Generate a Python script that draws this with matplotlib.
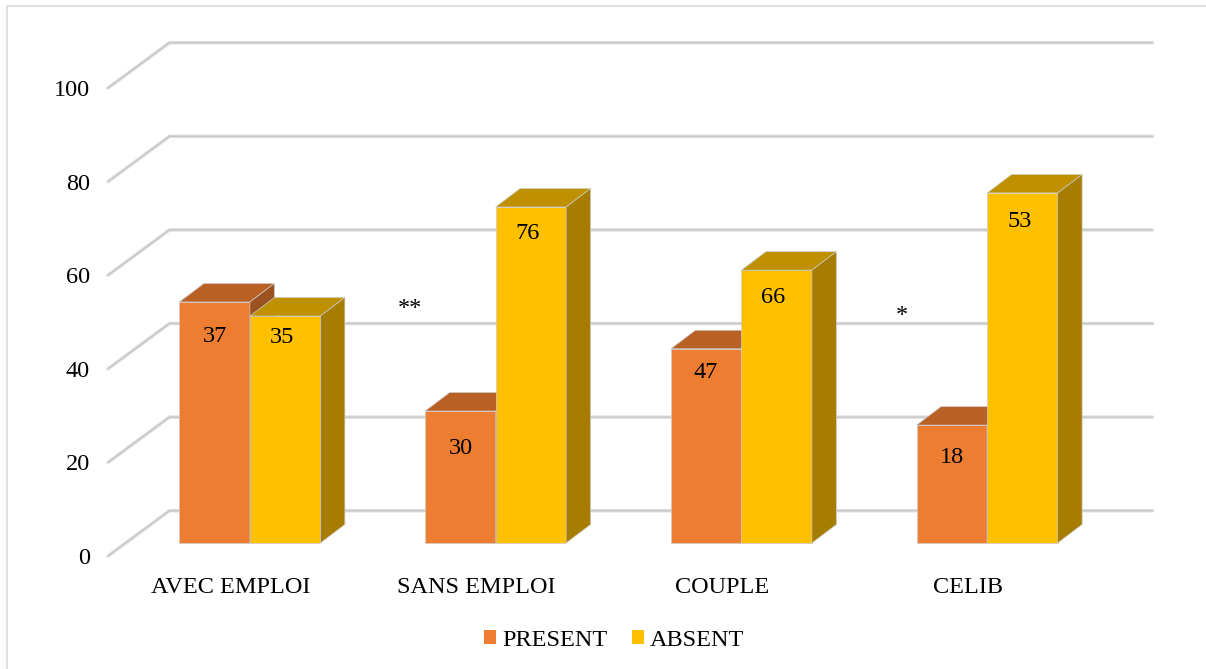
import matplotlib
matplotlib.use('Agg')
import matplotlib.pyplot as plt
from matplotlib.patches import Polygon, Patch

plt.rcParams['font.family'] = ['Liberation Serif', 'DejaVu Serif']

categories = ['AVEC EMPLOI', 'SANS EMPLOI', 'COUPLE', 'CELIB']
present_heights = [51.5, 28.2, 41.5, 25.2]
absent_heights = [48.5, 71.8, 58.3, 74.8]
# the printed labels are not the same as the drawn heights in the original
present_labels = ['37', '30', '47', '18']
absent_labels = ['35', '76', '66', '53']
y_ticks = [0, 20, 40, 60, 80, 100]
stars = [('**', 1.23, 52.8), ('*', 3.23, 51.3)]

W, H = 1206, 669
fig = plt.figure(figsize=(W / 100, H / 100), dpi=100)
x0, x1, y0, y100 = 108, 1091, 556, 88
ax = fig.add_axes([x0 / W, 1 - y0 / H, (x1 - x0) / W, (y0 - y100) / H])
ax.set_xlim(0, 4)
ax.set_ylim(0, 100)
for s in ax.spines.values():
    s.set_visible(False)

px_x = 4 / (x1 - x0)
px_y = 100 / (y0 - y100)

# oblique depth of floor and of the bars
wall_dx, wall_dy = 61.5 * px_x, 45.3 * px_y
bar_dx, bar_dy = 24.5 * px_x, 18.5 * px_y
bar_w = 70.5 * px_x
base_y = 13 * px_y
shift = 19 * px_x


def grid_line(xs, ys):
    ax.plot(xs, ys, color='#e0e0e0', lw=2.6, solid_capstyle='round', solid_joinstyle='round', zorder=1, clip_on=False)
    ax.plot(xs, ys, color='#c4c4c4', lw=0.9, solid_capstyle='round', solid_joinstyle='round', zorder=1.1, clip_on=False)


for v in y_ticks:
    grid_line([0, wall_dx, 4 + wall_dx], [v, v + wall_dy, v + wall_dy])


def bar3d(x, h, front, top, side):
    t = base_y + h
    faces = [
        ([(x, base_y), (x + bar_w, base_y), (x + bar_w, t), (x, t)], front),
        ([(x, t), (x + bar_w, t), (x + bar_w + bar_dx, t + bar_dy), (x + bar_dx, t + bar_dy)], top),
        ([(x + bar_w, base_y), (x + bar_w + bar_dx, base_y + bar_dy), (x + bar_w + bar_dx, t + bar_dy), (x + bar_w, t)], side),
    ]
    for pts, c in faces:
        ax.add_patch(Polygon(pts, closed=True, facecolor=c, edgecolor='#cccccc', lw=0.5, zorder=3, clip_on=False))


# how far below the bar top each label sits, in pixels
present_drop = [35, 37, 24, 32]
absent_drop = [21, 27, 27, 29]

for i in range(len(categories)):
    centre = i + 0.5 + shift
    bar3d(centre - bar_w, present_heights[i], '#ED7D31', '#B96024', '#9C5220')
    bar3d(centre, absent_heights[i], '#FFC000', '#BF9000', '#A67D00')
    ax.text(centre - bar_w / 2, base_y + present_heights[i] - present_drop[i] * px_y, present_labels[i],
            ha='center', va='center', fontsize=17.5, color='black', zorder=5)
    ax.text(centre + bar_w / 2 - 3 * px_x, base_y + absent_heights[i] - absent_drop[i] * px_y, absent_labels[i],
            ha='center', va='center', fontsize=17.5, color='black', zorder=5)

for txt, sx, sy in stars:
    ax.text(sx, sy, txt, ha='center', va='center', fontsize=17.5, color='black', zorder=5)

ax.set_xticks([i + 0.5 for i in range(len(categories))])
ax.set_xticklabels(categories, fontsize=17.5)
ax.set_yticks(y_ticks)
ax.set_yticklabels([str(v) for v in y_ticks], fontsize=17.5)
ax.tick_params(axis='x', length=0, pad=15)
ax.tick_params(axis='y', length=0, pad=13)

handles = [Patch(facecolor='#ED7D31', label='PRESENT'), Patch(facecolor='#FFC000', label='ABSENT')]
fig.legend(handles=handles, loc='center', bbox_to_anchor=(614 / W, 1 - 640 / H), ncol=2, frameon=False,
           fontsize=17.5, handlelength=0.5, handleheight=0.5, handletextpad=0.25, columnspacing=1.0,
           borderpad=0, borderaxespad=0)

# chart area border, only top and left are in the crop
fig.add_artist(plt.Line2D([7 / W, 7 / W], [0, 1 - 6 / H], color='#e0e0e0', lw=1.5))
fig.add_artist(plt.Line2D([7 / W, 1], [1 - 6 / H, 1 - 6 / H], color='#e0e0e0', lw=1.5))

fig.savefig('out.png', dpi=100)
